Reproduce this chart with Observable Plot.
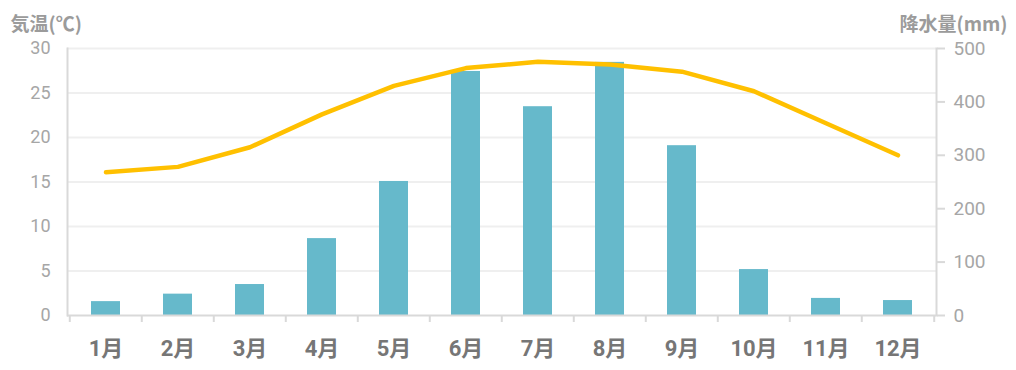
<!DOCTYPE html>
<html>
<head>
<meta charset="utf-8">
<script src="https://cdn.jsdelivr.net/npm/d3@7"></script>
<script src="https://cdn.jsdelivr.net/npm/@observablehq/plot@0.6"></script>
<style>
  html, body { margin: 0; padding: 0; background: #fff; }
  #chart svg { display: block; }
</style>
</head>
<body>
<div id="chart"></div>
<script>
const months = ["1月","2月","3月","4月","5月","6月","7月","8月","9月","10月","11月","12月"];
const temperature = [16.1, 16.7, 18.9, 22.6, 25.8, 27.8, 28.5, 28.2, 27.4, 25.2, 21.6, 18.0];
const precipitation = [26, 40, 58, 144, 251, 457, 391, 474, 318, 86, 32, 28];
const tempTicks = [0, 5, 10, 15, 20, 25, 30];
const precipTicks = [0, 100, 200, 300, 400, 500];
const tempTitle = "気温(℃)";
const precipTitle = "降水量(mm)";

const W = 1016, H = 370;
const ML = 67, MR = 80, MT = 48, MB = 55;
const step = (W - ML - MR) / months.length;
const tMax = 30, pMax = 500;
const toT = v => v * tMax / pMax;
const tickDown = -7 / ((H - MT - MB) / tMax);

const table = months.map((m, i) => ({month: m, temp: temperature[i], precip: precipitation[i]}));
const font = "Roboto, 'Noto Sans CJK JP', sans-serif";
const titleFont = "'Noto Sans CJK JP', sans-serif";

const chart = Plot.plot({
  width: W,
  height: H,
  marginLeft: ML,
  marginRight: MR,
  marginTop: MT,
  marginBottom: MB,
  style: {fontFamily: font, background: "#fff", overflow: "visible"},
  x: {type: "band", domain: months, paddingInner: 0.6, paddingOuter: 0.3},
  y: {domain: [0, tMax]},
  marks: [
    Plot.gridY(tempTicks.filter(d => d > 0), {stroke: "#efefef", strokeWidth: 2, strokeOpacity: 1}),
    Plot.rectY(table, {x: "month", y: d => toT(d.precip), fill: "#66b9cb"}),
    Plot.ruleX(months, {x: d => d, dx: -step / 2, y1: 0, y2: tickDown, stroke: "#d9d9d9", strokeWidth: 2}),
    Plot.ruleX([months[months.length - 1]], {x: d => d, dx: step / 2, y1: 0, y2: tickDown, stroke: "#d9d9d9", strokeWidth: 2}),
    Plot.frame({anchor: "left", stroke: "#d9d9d9", strokeWidth: 2}),
    Plot.frame({anchor: "right", stroke: "#d9d9d9", strokeWidth: 2}),
    Plot.ruleY([0], {stroke: "#d9d9d9", strokeWidth: 2}),
    Plot.axisY(tempTicks, {anchor: "left", tickSize: 0, tickPadding: 17, fontSize: 18, fill: "#a6a6a6", label: null}),
    Plot.axisY(precipTicks.map(toT), {anchor: "right", tickSize: 8, tickPadding: 9, fontSize: 19, fill: "#a6a6a6", stroke: "#d9d9d9", strokeWidth: 2, tickFormat: d => Math.round(d * pMax / tMax), label: null}),
    Plot.axisX({tickSize: 0, tickPadding: 25, fontSize: 22, fontWeight: "bold", fill: "#767676", label: null}),
    Plot.lineY(table, {x: "month", y: "temp", stroke: "#ffc000", strokeWidth: 4.5, strokeLinecap: "round", strokeLinejoin: "round"}),
    Plot.text([tempTitle], {text: d => d, frameAnchor: "top-left", textAnchor: "start", dx: -57, dy: -31, fontSize: 19, fontWeight: "bold", fontFamily: titleFont, fill: "#9b9b9b"}),
    Plot.text([precipTitle], {text: d => d, frameAnchor: "top-right", textAnchor: "end", dx: 71, dy: -31, fontSize: 19, fontWeight: "bold", fontFamily: titleFont, fill: "#9b9b9b"})
  ]
});
document.getElementById("chart").appendChild(chart);
</script>
</body>
</html>
